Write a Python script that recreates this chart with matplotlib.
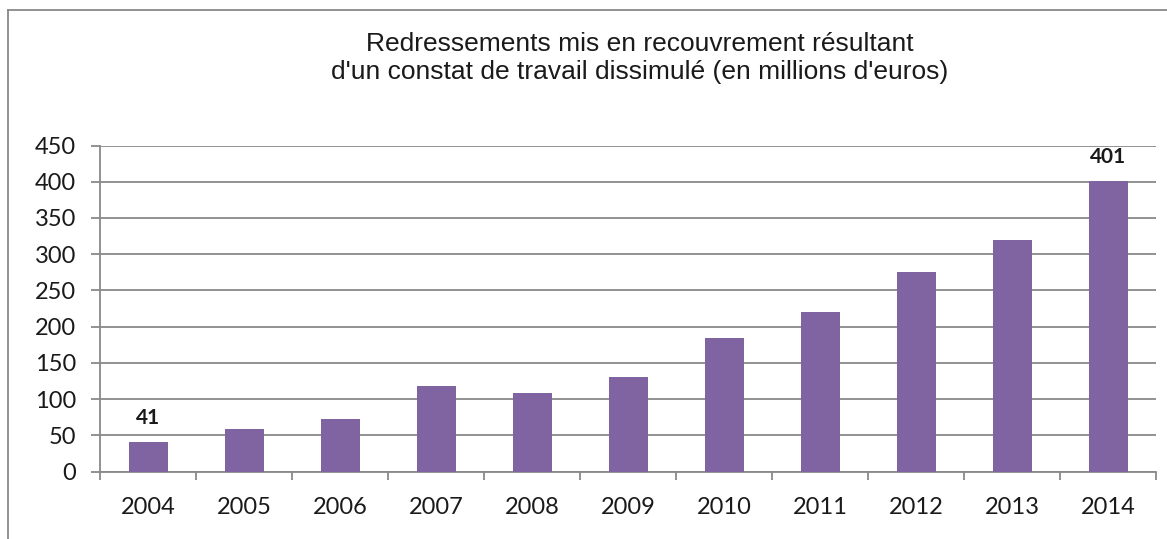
import matplotlib
matplotlib.use('Agg')
import matplotlib.pyplot as plt
from matplotlib.lines import Line2D

# données (millions d'euros)
years = ['2004', '2005', '2006', '2007', '2008', '2009', '2010', '2011', '2012', '2013', '2014']
values = [41, 59, 73, 118, 108, 130, 185, 220, 276, 320, 401]
labelled = ['2004', '2014']
yticks = [0, 50, 100, 150, 200, 250, 300, 350, 400, 450]
title = "Redressements mis en recouvrement résultant\nd'un constat de travail dissimulé (en millions d'euros)"

bar_color = '#8064A2'
grid_color = '#898989'

fig = plt.figure(figsize=(11.67, 5.39), dpi=100)
ax = fig.add_axes([0.0861, 0.1251, 0.9049, 0.6049])

x = list(range(len(years)))
ax.bar(x, values, width=0.4, color=bar_color, zorder=3)
ax.set_xlim(-0.5, len(years) - 0.5)
ax.set_ylim(0, 450)
ax.set_yticks(yticks)
ax.set_yticklabels([str(t) for t in yticks])

# ticks x entre les catégories
ax.set_xticks([i - 0.5 for i in range(len(years) + 1)])
ax.set_xticklabels([])
ax.set_xticks(x, minor=True)
ax.set_xticklabels(years, minor=True)
ax.tick_params(axis='x', which='major', length=6, width=1.3, color=grid_color, direction='out')
ax.tick_params(axis='x', which='minor', length=0, pad=18, labelsize=17, labelcolor='#1a1a1a')
ax.tick_params(axis='y', length=6.5, width=1.3, color=grid_color, pad=11, labelsize=17, labelcolor='#1a1a1a')
for lab in ax.get_xticklabels(minor=True) + ax.get_yticklabels():
    lab.set_fontfamily('Lato')

ax.yaxis.grid(True, color=grid_color, linewidth=1.3, zorder=0)
for side in ['top', 'right']:
    ax.spines[side].set_visible(False)
for side in ['left', 'bottom']:
    ax.spines[side].set_color(grid_color)
    ax.spines[side].set_linewidth(1.3)

# étiquettes de valeur (première et dernière barre)
for i, (yr, v) in enumerate(zip(years, values)):
    if yr in labelled:
        ax.annotate(str(v), (i, v), xytext=(0, 13), textcoords='offset points',
                    ha='center', va='baseline', fontsize=15, fontweight='bold',
                    fontfamily='Lato', color='#1a1a1a')

fig.text(0.548, 0.893, title, ha='center', va='center', fontsize=19,
         fontfamily='Liberation Sans', color='#1a1a1a', linespacing=1.2)

# cadre du graphique (haut et gauche visibles)
fig.add_artist(Line2D([8 / 1167, 8 / 1167], [0, 1 - 10 / 539], transform=fig.transFigure,
                      color=grid_color, linewidth=1.3))
fig.add_artist(Line2D([8 / 1167, 1], [1 - 10 / 539, 1 - 10 / 539], transform=fig.transFigure,
                      color=grid_color, linewidth=1.3))

fig.savefig('out.png', dpi=100)
